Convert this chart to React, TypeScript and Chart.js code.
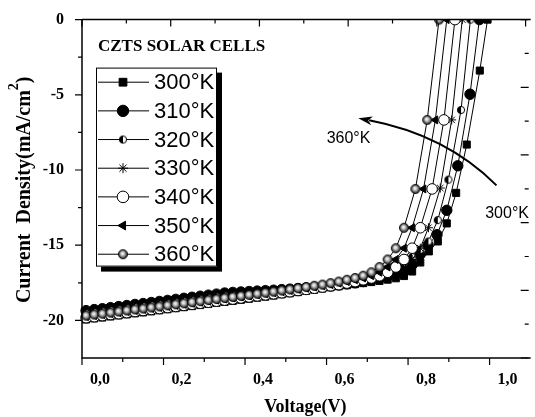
import React, { useEffect, useRef } from 'react';
import { Chart, registerables } from 'chart.js';
import { drawPoint } from 'chart.js/helpers';

Chart.register(...registerables);

// ---------- data ----------
const seriesLabels = ['300°K', '310°K', '320°K', '330°K', '340°K', '350°K', '360°K'];

const voltGrid = [0.01, 0.03, 0.05, 0.07, 0.09, 0.11, 0.13, 0.15, 0.17, 0.19, 0.21, 0.23, 0.25, 0.27, 0.29, 0.31, 0.33, 0.35, 0.37, 0.39, 0.41, 0.43, 0.45, 0.47, 0.49, 0.51, 0.53, 0.55, 0.57, 0.59, 0.61, 0.63, 0.65, 0.67, 0.69, 0.71, 0.73, 0.75, 0.77, 0.79, 0.81, 0.83, 0.85];

const volt300 = [...voltGrid.slice(0, 40), 0.81, 0.83, 0.851, 0.873, 0.895, 0.918, 0.944, 0.976, 0.995];
const volt310 = [...voltGrid.slice(0, 40), 0.81, 0.829, 0.849, 0.871, 0.895, 0.922, 0.952, 0.975];
const volt320 = [...voltGrid.slice(0, 43), 0.873, 0.899, 0.93, 0.953];
const volt330 = [...voltGrid.slice(0, 43), 0.879, 0.907, 0.933];
const volt340 = [...voltGrid.slice(0, 42), 0.859, 0.888, 0.915];
const volt350 = [...voltGrid.slice(0, 41), 0.838, 0.867, 0.895];
const volt360 = [...voltGrid.slice(0, 40), 0.818, 0.847, 0.876];

const cur300 = [-19.94, -19.87, -19.81, -19.74, -19.67, -19.6, -19.53, -19.47, -19.4, -19.33, -19.26, -19.19, -19.12, -19.05, -18.98, -18.91, -18.84, -18.77, -18.7, -18.63, -18.56, -18.49, -18.42, -18.35, -18.27, -18.2, -18.12, -18.04, -17.96, -17.88, -17.8, -17.73, -17.66, -17.59, -17.52, -17.45, -17.37, -17.29, -17.2, -17.05, -16.75, -16.15, -15.41, -14.75, -13.55, -11.52, -8.31, -3.39, 0];
const cur310 = [-19.35, -19.28, -19.22, -19.15, -19.08, -19.01, -18.94, -18.88, -18.81, -18.74, -18.67, -18.6, -18.53, -18.46, -18.39, -18.32, -18.25, -18.18, -18.14, -18.11, -18.08, -18.05, -18.02, -17.99, -17.95, -17.92, -17.88, -17.84, -17.8, -17.76, -17.7, -17.64, -17.57, -17.5, -17.42, -17.32, -17.2, -17.05, -16.85, -16.6, -16.3, -15.6, -15.0, -14.3, -12.68, -9.72, -4.96, 0];
const cur320 = [-19.53, -19.46, -19.4, -19.33, -19.26, -19.19, -19.12, -19.06, -18.99, -18.92, -18.85, -18.78, -18.71, -18.64, -18.57, -18.5, -18.43, -18.36, -18.32, -18.28, -18.24, -18.2, -18.16, -18.12, -18.07, -18.03, -17.98, -17.93, -17.88, -17.83, -17.76, -17.68, -17.59, -17.49, -17.37, -17.22, -17.03, -16.8, -16.52, -16.18, -15.78, -15.3, -14.75, -13.33, -10.64, -6.01, 0];
const cur330 = [-19.83, -19.76, -19.7, -19.63, -19.56, -19.49, -19.42, -19.36, -19.29, -19.22, -19.15, -19.08, -19.01, -18.94, -18.87, -18.8, -18.73, -18.66, -18.59, -18.52, -18.45, -18.38, -18.31, -18.24, -18.16, -18.09, -18.01, -17.95, -17.89, -17.84, -17.78, -17.7, -17.62, -17.52, -17.42, -17.3, -17.18, -17.03, -16.8, -16.45, -15.95, -15.2, -13.84, -11.2, -6.67, 0];
const cur340 = [-19.82, -19.75, -19.68, -19.61, -19.55, -19.48, -19.41, -19.34, -19.27, -19.21, -19.14, -19.07, -19.0, -18.93, -18.86, -18.79, -18.72, -18.65, -18.58, -18.51, -18.44, -18.37, -18.3, -18.23, -18.16, -18.09, -18.01, -17.94, -17.86, -17.78, -17.7, -17.62, -17.52, -17.42, -17.3, -17.18, -17.03, -16.8, -16.45, -15.95, -15.2, -13.84, -11.26, -6.67, 0];
const cur350 = [-19.75, -19.68, -19.61, -19.55, -19.48, -19.41, -19.34, -19.27, -19.21, -19.14, -19.07, -19.0, -18.93, -18.86, -18.79, -18.72, -18.65, -18.58, -18.51, -18.44, -18.37, -18.3, -18.23, -18.16, -18.09, -18.01, -17.94, -17.86, -17.78, -17.7, -17.62, -17.52, -17.42, -17.3, -17.18, -17.03, -16.8, -16.45, -15.95, -15.2, -13.84, -11.26, -6.67, 0];
const cur360 = [-19.68, -19.61, -19.55, -19.48, -19.41, -19.34, -19.27, -19.21, -19.14, -19.07, -19.0, -18.93, -18.86, -18.79, -18.72, -18.65, -18.58, -18.51, -18.44, -18.37, -18.3, -18.23, -18.16, -18.09, -18.01, -17.94, -17.86, -17.78, -17.7, -17.62, -17.52, -17.42, -17.3, -17.18, -17.03, -16.8, -16.45, -15.95, -15.2, -13.84, -11.26, -6.67, 0];

const xTicks = [0, 0.2, 0.4, 0.6, 0.8, 1.0];
const xMinorTicks = [0.1, 0.3, 0.5, 0.7, 0.9];
const yTicks = [-20, -15, -10, -5, 0];
const yMinorTicks = [-2.5, -7.5, -12.5, -17.5];
const topTicks = [0, 1, 2, 3, 4, 5, 6, 7, 8, 9, 10];
const rightTicks = [0, -1, -2, -3, -4, -5, -6, -7, -8, -9, -10];

const titleText = 'CZTS SOLAR CELLS';
const xTitle = 'Voltage(V)';
const yTitleMain = 'Current  Density(mA/cm';
const yTitleSup = '2';
const yTitleEnd = ')';

// annotation arrow in data units (V, J)
const arrowTip = [0.678, -6.56];
const arrowCtrl = [0.893, -7.67];
const arrowEnd = [1.017, -11.02];
const note360 = { text: '360°K', v: 0.654, j: -7.9 };
const note300 = { text: '300°K', v: 1.043, j: -12.92 };

const SERIF = '"Liberation Serif", "Times New Roman", serif';
const SANS = '"Liberation Sans", Arial, sans-serif';

function makeSphere(r: number) {
  const s = Math.ceil(2 * r + 2);
  const c = document.createElement('canvas');
  c.width = s;
  c.height = s;
  const g = c.getContext('2d')!;
  const cx = s / 2;
  const grad = g.createRadialGradient(cx - r * 0.15, cx - r * 0.2, 0, cx, cx, r);
  grad.addColorStop(0, '#ffffff');
  grad.addColorStop(0.35, '#cfcfcf');
  grad.addColorStop(0.75, '#5a5a5a');
  grad.addColorStop(1, '#1a1a1a');
  g.fillStyle = grad;
  g.beginPath();
  g.arc(cx, cx, r, 0, Math.PI * 2);
  g.fill();
  g.lineWidth = 0.8;
  g.strokeStyle = '#000';
  g.stroke();
  return c;
}

function makeHalf(r: number) {
  const s = Math.ceil(2 * r + 2);
  const c = document.createElement('canvas');
  c.width = s;
  c.height = s;
  const g = c.getContext('2d')!;
  const cx = s / 2;
  g.fillStyle = '#fff';
  g.beginPath();
  g.arc(cx, cx, r, 0, Math.PI * 2);
  g.fill();
  g.fillStyle = '#000';
  g.beginPath();
  g.arc(cx, cx, r, Math.PI / 2, (3 * Math.PI) / 2);
  g.closePath();
  g.fill();
  g.lineWidth = 1;
  g.strokeStyle = '#000';
  g.beginPath();
  g.arc(cx, cx, r, 0, Math.PI * 2);
  g.stroke();
  return c;
}

export default function App() {
  const ref = useRef<HTMLCanvasElement | null>(null);

  useEffect(() => {
    const canvas = ref.current!;
    const sphere = makeSphere(4.6);
    const half = makeHalf(3.6);

    const styles: any[] = [
      { pointStyle: 'rect', radius: 5, bg: '#000', rot: 0 },
      { pointStyle: 'circle', radius: 5.2, bg: '#000', rot: 0 },
      { pointStyle: half, radius: 3.6, bg: '#000', rot: 0 },
      { pointStyle: 'star', radius: 4.5, bg: '#000', rot: 0 },
      { pointStyle: 'circle', radius: 5.3, bg: '#fff', rot: 0 },
      { pointStyle: 'triangle', radius: 4.6, bg: '#000', rot: -90 },
      { pointStyle: sphere, radius: 4.6, bg: '#888', rot: 0 },
    ];
    const volts = [volt300, volt310, volt320, volt330, volt340, volt350, volt360];
    const curs = [cur300, cur310, cur320, cur330, cur340, cur350, cur360];

    const datasets = seriesLabels.map((label, i) => ({
      label,
      data: volts[i].map((v, k) => ({ x: v, y: curs[i][k] })),
      borderColor: '#000',
      borderWidth: 1,
      backgroundColor: styles[i].bg,
      pointBackgroundColor: styles[i].bg,
      pointBorderColor: '#000',
      pointBorderWidth: 1,
      pointStyle: styles[i].pointStyle,
      pointRadius: styles[i].radius,
      pointRotation: styles[i].rot,
      tension: 0,
      fill: false,
      order: 6 - i,
      clip: { left: 3, top: 0, right: 0, bottom: 0 },
    }));

    const decor = {
      id: 'decor',
      afterDatasetsDraw(chart: any) {
        const { ctx, chartArea: a, scales } = chart;
        const sx = scales.x, sy = scales.y, sx2 = scales.x2, sy2 = scales.y2;
        ctx.save();
        ctx.strokeStyle = '#000';
        ctx.lineWidth = 1.5;
        ctx.beginPath();
        ctx.moveTo(a.left, a.top);
        ctx.lineTo(a.right + 2, a.top);
        ctx.moveTo(a.left, a.top);
        ctx.lineTo(a.left, a.bottom);
        ctx.lineTo(a.right + 2, a.bottom);
        ctx.stroke();
        ctx.lineWidth = 1.2;
        ctx.beginPath();
        xTicks.forEach((v) => {
          const p = sx.getPixelForValue(v);
          ctx.moveTo(p, a.bottom);
          ctx.lineTo(p, a.bottom + 7);
        });
        xMinorTicks.forEach((v) => {
          const p = sx.getPixelForValue(v);
          ctx.moveTo(p, a.bottom);
          ctx.lineTo(p, a.bottom + 4);
        });
        yTicks.forEach((v) => {
          const p = sy.getPixelForValue(v);
          ctx.moveTo(a.left, p);
          ctx.lineTo(a.left - 7, p);
        });
        yMinorTicks.forEach((v) => {
          const p = sy.getPixelForValue(v);
          ctx.moveTo(a.left, p);
          ctx.lineTo(a.left - 4, p);
        });
        topTicks.forEach((v) => {
          const p = sx2.getPixelForValue(v);
          const len = v % 2 === 0 ? 7 : 4;
          ctx.moveTo(p, a.top);
          ctx.lineTo(p, a.top + len);
        });
        rightTicks.forEach((v) => {
          const p = sy2.getPixelForValue(v);
          const len = Math.abs(v) % 2 === 0 ? 8 : 4;
          ctx.moveTo(a.right, p);
          ctx.lineTo(a.right - len, p);
        });
        ctx.stroke();

        // arrow annotation
        const tx = sx.getPixelForValue(arrowTip[0]), ty = sy.getPixelForValue(arrowTip[1]);
        const cx = sx.getPixelForValue(arrowCtrl[0]), cy = sy.getPixelForValue(arrowCtrl[1]);
        const ex = sx.getPixelForValue(arrowEnd[0]), ey = sy.getPixelForValue(arrowEnd[1]);
        const ang = Math.atan2(ty - cy, tx - cx);
        const hl = 14, hw = 4.5;
        const bx = tx - Math.cos(ang) * hl, by = ty - Math.sin(ang) * hl;
        ctx.lineWidth = 2;
        ctx.beginPath();
        ctx.moveTo(ex, ey);
        ctx.quadraticCurveTo(cx, cy, bx + Math.cos(ang) * 3, by + Math.sin(ang) * 3);
        ctx.stroke();
        ctx.fillStyle = '#000';
        ctx.beginPath();
        ctx.moveTo(tx, ty);
        ctx.lineTo(bx - Math.sin(ang) * hw, by + Math.cos(ang) * hw);
        ctx.lineTo(bx + Math.cos(ang) * 4, by + Math.sin(ang) * 4);
        ctx.lineTo(bx + Math.sin(ang) * hw, by - Math.cos(ang) * hw);
        ctx.closePath();
        ctx.fill();

        ctx.font = `16px ${SANS}`;
        ctx.textAlign = 'center';
        ctx.textBaseline = 'middle';
        ctx.fillText(note360.text, sx.getPixelForValue(note360.v), sy.getPixelForValue(note360.j));
        ctx.fillText(note300.text, sx.getPixelForValue(note300.v), sy.getPixelForValue(note300.j));

        ctx.font = `bold 17px ${SERIF}`;
        ctx.textAlign = 'left';
        ctx.fillText(titleText, a.left + 16, a.top + 27);

        // legend
        const lx = a.left + 14, ly = a.top + 48, lw = 121, lh = 199;
        ctx.fillStyle = '#000';
        ctx.fillRect(lx + 5, ly + 5, lw, lh);
        ctx.fillStyle = '#fff';
        ctx.fillRect(lx, ly, lw, lh);
        ctx.lineWidth = 1;
        ctx.strokeStyle = '#000';
        ctx.strokeRect(lx + 0.5, ly + 0.5, lw - 1, lh - 1);
        seriesLabels.forEach((lab, i) => {
          const yy = ly + 14.6 + i * 28.67;
          ctx.lineWidth = 1;
          ctx.strokeStyle = '#000';
          ctx.beginPath();
          ctx.moveTo(lx + 2, yy);
          ctx.lineTo(lx + 53, yy);
          ctx.stroke();
          ctx.fillStyle = styles[i].bg;
          ctx.strokeStyle = '#000';
          ctx.lineWidth = 1;
          drawPoint(ctx, { pointStyle: styles[i].pointStyle, radius: styles[i].radius + 0.5, rotation: styles[i].rot, borderWidth: 1 } as any, lx + 27, yy);
          ctx.fillStyle = '#000';
          ctx.font = `22px ${SANS}`;
          ctx.textAlign = 'left';
          ctx.textBaseline = 'middle';
          ctx.fillText(lab, lx + 58, yy + 1);
        });

        // axis titles
        ctx.fillStyle = '#000';
        ctx.font = `bold 18px ${SERIF}`;
        ctx.textAlign = 'center';
        ctx.textBaseline = 'middle';
        ctx.fillText(xTitle, (a.left + a.right) / 2, 407);

        ctx.save();
        ctx.translate(30, (a.top + a.bottom) / 2 + 1);
        ctx.rotate(-Math.PI / 2);
        ctx.textAlign = 'left';
        ctx.textBaseline = 'alphabetic';
        ctx.font = `bold 20px ${SERIF}`;
        const w1 = ctx.measureText(yTitleMain).width;
        const w3 = ctx.measureText(yTitleEnd).width;
        ctx.font = `bold 14px ${SERIF}`;
        const w2 = ctx.measureText(yTitleSup).width;
        const start = -(w1 + w2 + w3) / 2;
        ctx.font = `bold 20px ${SERIF}`;
        ctx.fillText(yTitleMain, start, 0);
        ctx.fillText(yTitleEnd, start + w1 + w2, 0);
        ctx.font = `bold 14px ${SERIF}`;
        ctx.fillText(yTitleSup, start + w1, -12);
        ctx.restore();

        ctx.restore();
      },
    };

    const chart = new Chart(canvas, {
      type: 'line',
      data: { datasets } as any,
      options: {
        animation: false,
        responsive: false,
        devicePixelRatio: 1,
        events: [],
        layout: { padding: { top: 15, left: 0, right: 0, bottom: 0 } },
        plugins: { legend: { display: false }, tooltip: { enabled: false }, title: { display: false } },
        scales: {
          x: {
            type: 'linear',
            position: 'bottom',
            min: 0,
            max: 1.096,
            afterBuildTicks: (s: any) => {
              s.ticks = xTicks.map((v) => ({ value: v }));
            },
            afterFit: (s: any) => {
              s.height = 59;
            },
            grid: { display: false },
            border: { display: false },
            ticks: {
              color: '#000',
              font: { family: SERIF, weight: 'bold', size: 16 },
              padding: 4,
              labelOffset: 18,
              maxRotation: 0,
              autoSkip: false,
              callback: (v: any) => Number(v).toFixed(1).replace('.', ','),
            },
          },
          y: {
            type: 'linear',
            position: 'left',
            min: -22.5,
            max: 0,
            afterBuildTicks: (s: any) => {
              s.ticks = yTicks.map((v) => ({ value: v }));
            },
            afterFit: (s: any) => {
              s.width = 82;
            },
            grid: { display: false },
            border: { display: false },
            ticks: {
              color: '#000',
              font: { family: SERIF, weight: 'bold', size: 16 },
              padding: 10,
              callback: (v: any) => String(v),
            },
          },
          x2: { type: 'linear', position: 'top', display: false, min: 0, max: 10.07 },
          y2: { type: 'linear', position: 'right', display: false, min: -10, max: 0 },
        },
      } as any,
      plugins: [decor],
    });
    return () => chart.destroy();
  }, []);

  return (
    <div style={{ position: 'fixed', left: 0, top: 0, width: 535, height: 417, background: '#fff' }}>
      <canvas ref={ref} width={535} height={417} style={{ display: 'block', width: 535, height: 417 }} />
    </div>
  );
}
